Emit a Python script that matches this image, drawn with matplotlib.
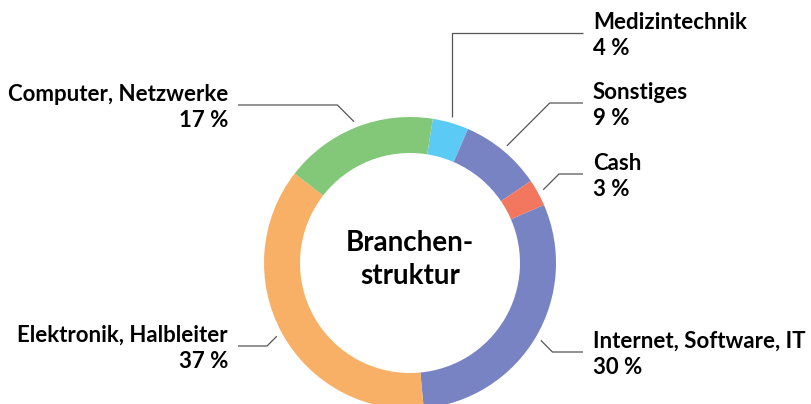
import numpy as np
import matplotlib
matplotlib.use("Agg")
import matplotlib.pyplot as plt

# data
categories = ["Medizintechnik", "Sonstiges", "Cash", "Internet, Software, IT",
              "Elektronik, Halbleiter", "Computer, Netzwerke"]
shares = [4, 9, 3, 30, 37, 17]
colors = ["#5bcbf5", "#7783c2", "#f2775e", "#7783c2", "#f8b066", "#82c878"]

# label layout (pixel y of leader line, side, elbow style)
label_y = [33, 103, 174, 352, 346, 105]
label_side = ["right", "right", "right", "right", "left", "left"]
elbow = ["vertical", "diag", "diag", "diag", "diag", "diag"]

plt.rcParams["font.family"] = ["Lato", "DejaVu Sans"]

W, H = 812, 404
fig = plt.figure(figsize=(W / 100, H / 100), dpi=100)
ax = fig.add_axes([0, 0, 1, 1])

cx, cy, R, ring = 410, H - 263, 146, 36
start = 81
ax.pie(shares, colors=colors, startangle=start, counterclock=False,
       center=(cx, cy), radius=R, frame=True,
       wedgeprops=dict(width=ring, linewidth=0))
ax.set_xlim(0, W)
ax.set_ylim(0, H)
ax.set_aspect("equal")
ax.axis("off")

ax.text(cx, H - 243, "Branchen-", ha="center", va="center", fontsize=20, fontweight="bold")
ax.text(cx, H - 276, "struktur", ha="center", va="center", fontsize=20, fontweight="bold")

total = sum(shares)
acc = 0
for name, val, ly, side, eb in zip(categories, shares, label_y, label_side, elbow):
    mid = 90 - start + (acc + val / 2) / total * 360  # degrees clockwise from top
    acc += val
    a = np.radians(mid)
    x0 = cx + (R + 6) * np.sin(a)
    y0 = cy + (R + 6) * np.cos(a)
    yl = H - ly
    if eb == "vertical":
        xe = x0
    else:
        s = 1 if side == "right" else -1
        xe = x0 + s * abs(yl - y0)
    xend = 583 if side == "right" else 238
    ax.plot([x0, xe, xend], [y0, yl, yl], color="#555555", lw=0.9, solid_capstyle="butt")
    if side == "right":
        tx, ha = 593, "left"
    else:
        tx, ha = 228, "right"
    ax.text(tx, yl + 4, name, ha=ha, va="baseline", fontsize=16, fontweight="bold")
    ax.text(tx, yl - 22, f"{val} %", ha=ha, va="baseline", fontsize=16, fontweight="bold")

fig.savefig("out.png", dpi=100, facecolor="white")
